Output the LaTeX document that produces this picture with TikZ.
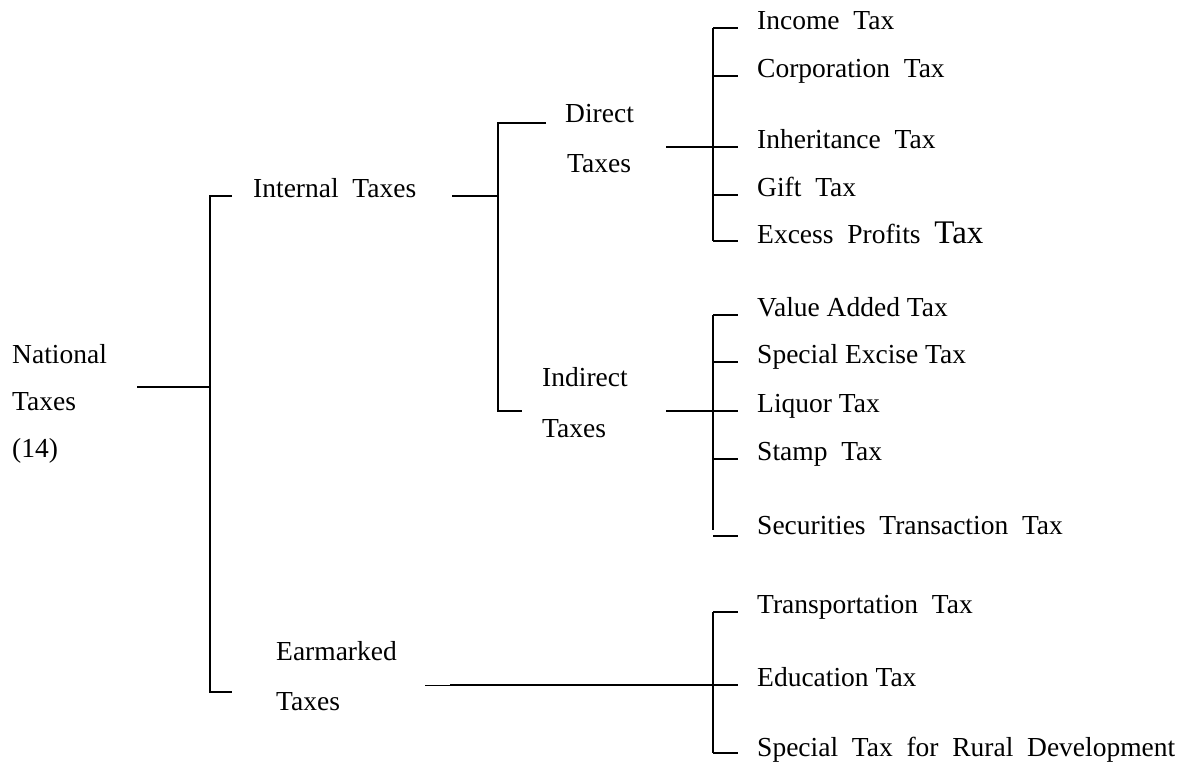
\documentclass[tikz,border=0pt]{standalone}
\usepackage{fontspec}
\setmainfont{LiberationSerif}[Extension=.ttf, UprightFont=*-Regular, BoldFont=*-Bold]
\newcommand\dsp{\hspace{0.5em}}
\begin{document}
\begin{tikzpicture}[x=1pt,y=-1pt,
  txt/.style={font=\fontsize{27.5}{33}\selectfont, inner sep=0pt, anchor=base west},
  ln/.style={line width=1.5pt},
  thinln/.style={line width=0.8pt}]
\useasboundingbox (0,0) rectangle (1199,766);
% ---- texts ----
\node[txt] (nat1) at (12,363) {National};
\node[txt] (nat2) at (12,410) {Taxes};
\node[txt] (nat3) at (12,457) {(14)};
\node[txt] (int) at (253,197) {Internal\dsp Taxes};
\node[txt] (dir1) at (565,122) {Direct};
\node[txt] (dir2) at (567,172) {Taxes};
\node[txt] (ind1) at (542,386) {Indirect};
\node[txt] (ind2) at (542,437) {Taxes};
\node[txt] (ear1) at (276,660) {Earmarked};
\node[txt] (ear2) at (276,710) {Taxes};
\node[txt] (l1) at (757,29) {Income\dsp Tax};
\node[txt] (l2) at (757,77) {Corporation\dsp Tax};
\node[txt] (l3) at (757,148) {Inheritance\dsp Tax};
\node[txt] (l4) at (757,196) {Gift\dsp Tax};
\node[txt] (l5) at (757,243) {Excess\dsp Profits\dsp{\fontsize{33}{38}\selectfont Tax}};
\node[txt] (l6) at (757,316) {Value Added Tax};
\node[txt] (l7) at (757,363) {Special Excise Tax};
\node[txt] (l8) at (757,412) {Liquor Tax};
\node[txt] (l9) at (757,460) {Stamp\dsp Tax};
\node[txt] (l10) at (757,534) {Securities\dsp Transaction\dsp Tax};
\node[txt] (l11) at (757,613) {Transportation\dsp Tax};
\node[txt] (l12) at (757,686) {Education Tax};
\node[txt] (l13) at (757,756) {Special\dsp Tax\dsp for\dsp Rural\dsp Development};
% ---- junction coordinates ----
\coordinate (n0) at (137,387);
\coordinate (n1) at (210,387);
\coordinate (a1) at (210,196);
\coordinate (a2) at (232,196);
\coordinate (b1) at (210,692);
\coordinate (b2) at (232,692);
\coordinate (i0) at (452,196);
\coordinate (i1) at (498,196);
\coordinate (d1) at (498,123);
\coordinate (d2) at (546,123);
\coordinate (x1) at (498,411);
\coordinate (x2) at (522,411);
\coordinate (dv0) at (666,147);
\coordinate (dv1) at (738,147);
\coordinate (dt) at (713,28);
\coordinate (db) at (713,241);
\coordinate (xv0) at (666,411);
\coordinate (xv1) at (738,411);
\coordinate (xt) at (713,315);
\coordinate (xb) at (713,530);
\coordinate (e0) at (425,685);
\coordinate (e1) at (450,685);
\coordinate (e2) at (738,685);
\coordinate (et) at (713,612);
\coordinate (eb) at (713,753);
% ---- lines ----
\draw[ln] (n0) -- (n1);
\draw[ln] (a2) -- (a1) -- (b1) -- (b2);
\draw[ln] (i0) -- (i1);
\draw[ln] (d2) -- (d1) -- (x1) -- (x2);
% direct taxes bracket
\draw[ln] (dv0) -- (dv1);
\draw[ln] (dt) -- (db);
\draw[ln] (dt) -- ++(25,0);
\draw[ln] (713,76) -- ++(25,0);
\draw[ln] (713,195) -- ++(25,0);
\draw[ln] (db) -- ++(25,0);
% indirect taxes bracket
\draw[ln] (xv0) -- (xv1);
\draw[ln] (xt) -- (xb);
\draw[ln] (xt) -- ++(25,0);
\draw[ln] (713,362) -- ++(25,0);
\draw[ln] (713,459) -- ++(25,0);
\draw[ln] (713,536) -- ++(25,0);
% earmarked bracket
\draw[thinln] (e0) -- (e1);
\draw[ln] (e1) -- (e2);
\draw[ln] (et) -- (eb);
\draw[ln] (et) -- ++(25,0);
\draw[ln] (eb) -- ++(25,0);
\end{tikzpicture}
\end{document}
